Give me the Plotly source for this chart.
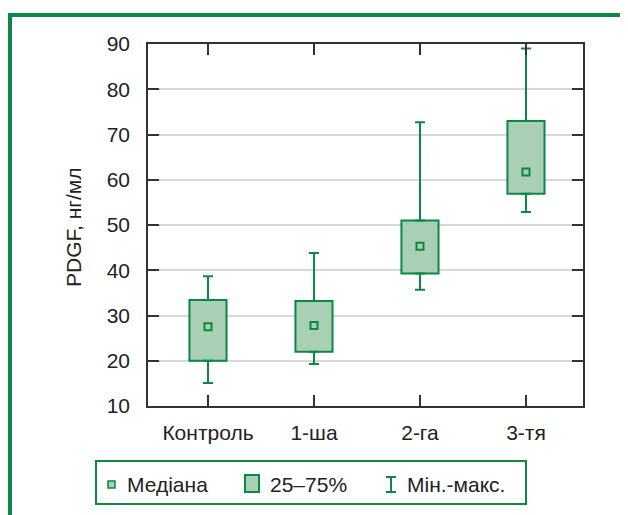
import plotly.graph_objects as go

categories = ["Контроль", "1-ша", "2-га", "3-тя"]
q1 = [20.0, 22.0, 39.3, 56.9]
q3 = [33.4, 33.2, 51.0, 73.0]
median = [27.5, 27.8, 45.3, 61.7]
vmin = [15.1, 19.3, 35.7, 52.9]
vmax = [38.7, 43.8, 72.7, 89.0]
y_ticks = [10, 20, 30, 40, 50, 60, 70, 80, 90]
legend_labels = ["Медіана", "25–75%", "Мін.-макс."]

GREEN = "#0b8843"
FILL = "#a9cfb5"
FONT = "Liberation Sans, Arial, sans-serif"
FS = 21

OFF = 8  # page body margin
W, H = 628 - OFF, 515 - OFF
X0, X1, Y0, Y1 = 148, 583, 44, 406  # plot area in window pixels
ML, MR, MT, MB = X0 - OFF, 628 - X1, Y0 - OFF, 515 - Y1
PW, PH = X1 - X0, Y1 - Y0

def px(x):
    return (x - X0) / PW

def py(y):
    return (Y1 - y) / PH

xs = list(range(len(categories)))

fig = go.Figure()

# IQR boxes
fig.add_trace(go.Bar(
    x=xs, y=[b - a for a, b in zip(q1, q3)], base=q1, width=0.35,
    marker=dict(color=FILL, line=dict(color=GREEN, width=2)),
    showlegend=False, hoverinfo="skip"))

# upper whiskers
fig.add_trace(go.Scatter(
    x=xs, y=q3, mode="markers", marker=dict(size=1, opacity=0),
    error_y=dict(type="data", symmetric=False,
                 array=[m - b for m, b in zip(vmax, q3)],
                 arrayminus=[0] * len(xs),
                 width=5, thickness=2, color=GREEN),
    showlegend=False, hoverinfo="skip"))

# lower whiskers
fig.add_trace(go.Scatter(
    x=xs, y=q1, mode="markers", marker=dict(size=1, opacity=0),
    error_y=dict(type="data", symmetric=False,
                 array=[0] * len(xs),
                 arrayminus=[a - m for a, m in zip(q1, vmin)],
                 width=5, thickness=2, color=GREEN),
    showlegend=False, hoverinfo="skip"))

# medians
fig.add_trace(go.Scatter(
    x=xs, y=median, mode="markers",
    marker=dict(symbol="square", size=7, color=FILL, line=dict(color=GREEN, width=2)),
    showlegend=False, hoverinfo="skip"))

shapes = []
annotations = []

# outer green frame
shapes.append(dict(type="rect", xref="paper", yref="paper",
                   x0=px(10), x1=px(760), y0=py(640), y1=py(15),
                   line=dict(color=GREEN, width=4), fillcolor="rgba(0,0,0,0)", layer="below"))

# legend box
shapes.append(dict(type="rect", xref="paper", yref="paper",
                   x0=px(96), x1=px(526), y0=py(504), y1=py(461),
                   line=dict(color=GREEN, width=2), fillcolor="white"))
# legend icons
shapes.append(dict(type="rect", xref="paper", yref="paper",
                   x0=px(108), x1=px(115), y0=py(488), y1=py(481),
                   line=dict(color=GREEN, width=1.5), fillcolor=FILL))
shapes.append(dict(type="rect", xref="paper", yref="paper",
                   x0=px(245), x1=px(259), y0=py(492), y1=py(475),
                   line=dict(color=GREEN, width=2), fillcolor=FILL))
shapes.append(dict(type="line", xref="paper", yref="paper",
                   x0=px(391), x1=px(391), y0=py(492), y1=py(477),
                   line=dict(color=GREEN, width=2)))
shapes.append(dict(type="line", xref="paper", yref="paper",
                   x0=px(386), x1=px(396), y0=py(477), y1=py(477),
                   line=dict(color=GREEN, width=2)))
shapes.append(dict(type="line", xref="paper", yref="paper",
                   x0=px(386), x1=px(396), y0=py(492), y1=py(492),
                   line=dict(color=GREEN, width=2)))

for label, xpos in zip(legend_labels, [125, 268, 405]):
    annotations.append(dict(text=label, xref="paper", yref="paper",
                            x=px(xpos), y=py(484), xanchor="left", yanchor="middle",
                            showarrow=False, font=dict(size=FS, color="#222", family=FONT)))

# y axis title
annotations.append(dict(text="PDGF, нг/мл", xref="paper", yref="paper",
                        x=px(73), y=py(228), textangle=-90,
                        xanchor="center", yanchor="middle", showarrow=False,
                        font=dict(size=FS, color="#222", family=FONT)))

fig.update_layout(
    width=W, height=H,
    margin=dict(l=ML, r=MR, t=MT, b=MB, pad=0),
    paper_bgcolor="white", plot_bgcolor="white",
    font=dict(family=FONT, size=FS, color="#222"),
    showlegend=False,
    shapes=shapes, annotations=annotations,
    xaxis=dict(range=[-0.566, 3.538], tickvals=xs, ticktext=categories,
               showgrid=False, zeroline=False,
               showline=True, linecolor="#333", linewidth=1.5, mirror="ticks",
               ticks="inside", ticklen=11, tickwidth=1.5, tickcolor="#333",
               ticklabelstandoff=7,
               tickfont=dict(size=FS, family=FONT, color="#222")),
    yaxis=dict(range=[10, 90], tickvals=y_ticks,
               showgrid=True, gridcolor="#d8d8d8", gridwidth=1.5, zeroline=False,
               showline=True, linecolor="#333", linewidth=1.5, mirror="ticks",
               ticks="inside", ticklen=11, tickwidth=1.5, tickcolor="#333",
               ticklabelstandoff=12,
               tickfont=dict(size=FS, family=FONT, color="#222")),
)

fig.write_html("out.html")
